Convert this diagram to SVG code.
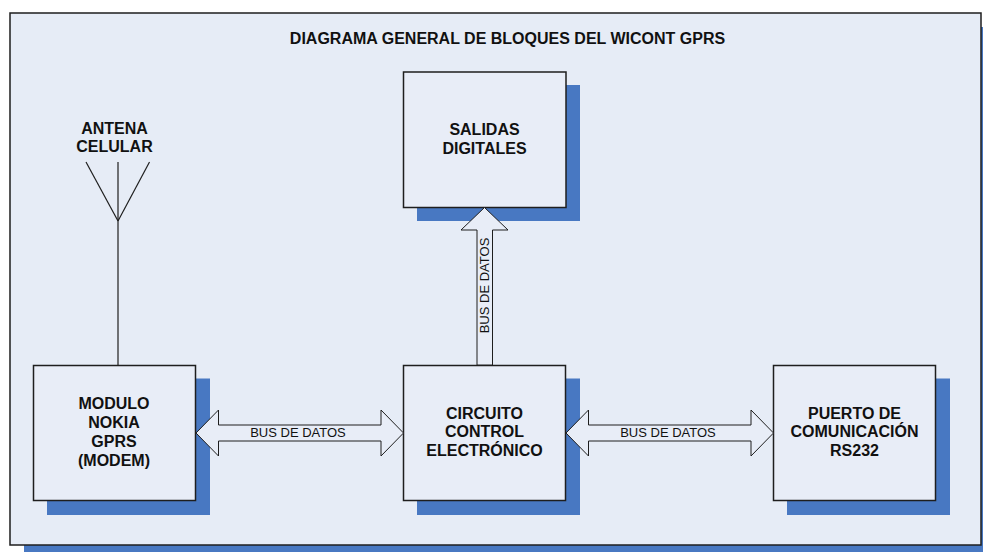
<svg xmlns="http://www.w3.org/2000/svg" width="983" height="552" viewBox="0 0 983 552">
  <style>
    .frame { fill: #E6ECF6; stroke: #1E1E1E; stroke-width: 1.5; }
    .shadow { fill: #4878C2; stroke: none; }
    .box { fill: #E8EDF7; stroke: #1E1E1E; stroke-width: 1.5; }
    .bus { fill: #E8EDF7; stroke: #1E1E1E; stroke-width: 1; }
    .wire { stroke: #1E1E1E; stroke-width: 1.2; fill: none; }
    .lbl { font-family: "Liberation Sans", Arial, sans-serif; font-weight: bold; font-size: 16px; fill: #111; text-anchor: middle; }
    .bl { font-family: "Liberation Sans", Arial, sans-serif; font-size: 13px; fill: #111; text-anchor: middle; }
  </style>

  <!-- page background and frame with drop shadow -->
  <rect x="0" y="0" width="983" height="552" fill="#FFFFFF"/>
  <rect class="shadow" x="24" y="27" width="971" height="532"/>
  <rect class="frame" x="10" y="13" width="971" height="532"/>

  <text id="title" class="lbl" x="507.5" y="43.5">DIAGRAMA GENERAL DE BLOQUES DEL WICONT GPRS</text>

  <g id="antena-label">
    <text class="lbl" x="114.5" y="134">ANTENA</text>
    <text class="lbl" x="114.5" y="152">CELULAR</text>
  </g>

  <g id="salidas">
    <rect class="shadow" x="417" y="85" width="163" height="136"/>
    <rect class="box" x="403.5" y="72" width="162.5" height="135.5"/>
    <text class="lbl" x="484.5" y="135">SALIDAS</text>
    <text class="lbl" x="484.5" y="154">DIGITALES</text>
  </g>

  <g id="modem">
    <rect class="shadow" x="47" y="378.5" width="163" height="136.5"/>
    <rect class="box" x="33.5" y="365.5" width="162" height="135"/>
    <text class="lbl" x="114" y="409">MODULO</text>
    <text class="lbl" x="114" y="428">NOKIA</text>
    <text class="lbl" x="114" y="447">GPRS</text>
    <text class="lbl" x="114" y="466">(MODEM)</text>
  </g>

  <g id="control">
    <rect class="shadow" x="417" y="378.5" width="163" height="136.5"/>
    <rect class="box" x="403.5" y="365.5" width="162" height="135"/>
    <text class="lbl" x="484.5" y="418.5">CIRCUITO</text>
    <text class="lbl" x="484.5" y="437">CONTROL</text>
    <text class="lbl" x="484.5" y="456">ELECTRÓNICO</text>
  </g>

  <g id="rs232">
    <rect class="shadow" x="787" y="378.5" width="163" height="136.5"/>
    <rect class="box" x="773.5" y="365.5" width="162" height="135"/>
    <text class="lbl" x="854.5" y="418.5">PUERTO DE</text>
    <text class="lbl" x="854.5" y="437">COMUNICACIÓN</text>
    <text class="lbl" x="854.5" y="456">RS232</text>
  </g>

  <!-- connectors, drawn over the block shadows -->
  <g id="connectors">
    <!-- antenna -->
    <g id="antena">
      <line class="wire" x1="86" y1="162" x2="118" y2="221"/>
      <line class="wire" x1="149.5" y1="162" x2="118" y2="221"/>
      <line class="wire" x1="118" y1="162" x2="118" y2="365"/>
    </g>
    <!-- modem <-> control bus -->
    <polygon class="bus" points="196,433 218.5,410 218.5,425 381,425 381,410 403.5,433 381,456 381,441 218.5,441 218.5,456"/>
    <text class="bl" x="298" y="437">BUS DE DATOS</text>
    <!-- control <-> RS232 bus -->
    <polygon class="bus" points="566,433 588.5,410 588.5,425 751,425 751,410 773.5,433 751,456 751,441 588.5,441 588.5,456"/>
    <text class="bl" x="668" y="437">BUS DE DATOS</text>
    <!-- control -> digital outputs bus -->
    <polygon class="bus" points="484.5,207.5 461,230 477,230 477,365 492.5,365 492.5,230 508,230"/>
    <text class="bl" transform="translate(489,285.5) rotate(-90)">BUS DE DATOS</text>
  </g>
</svg>
